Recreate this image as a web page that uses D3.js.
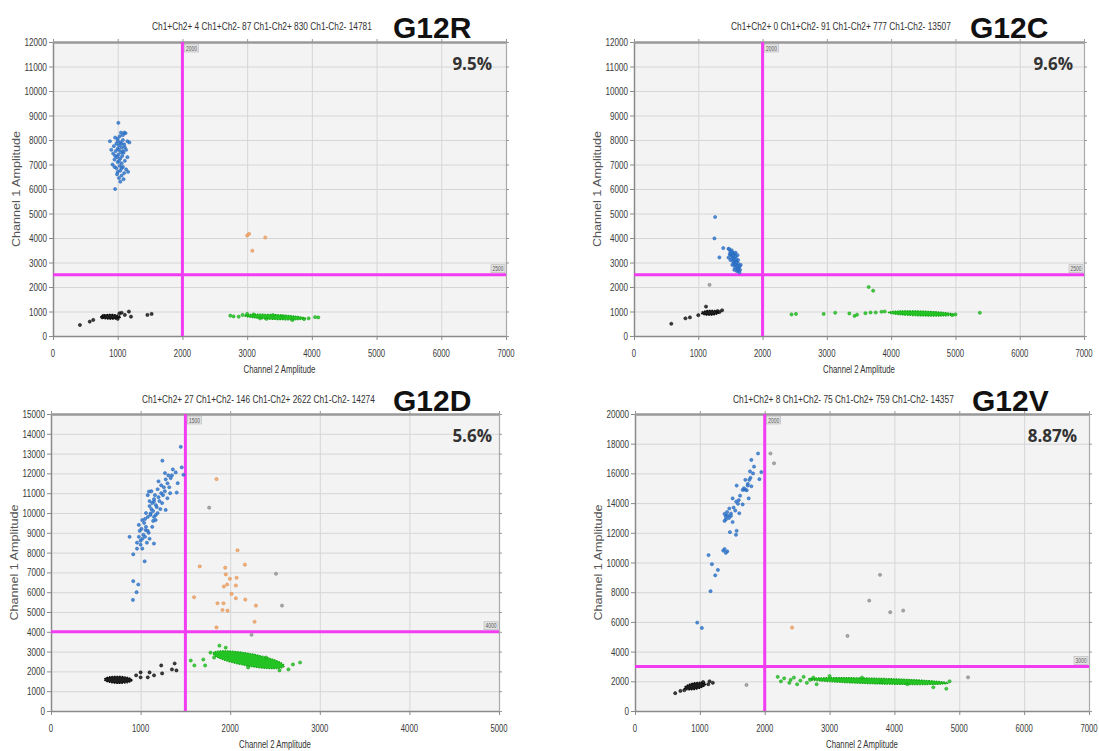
<!DOCTYPE html>
<html>
<head>
<meta charset="utf-8">
<script src="https://cdnjs.cloudflare.com/ajax/libs/d3/7.8.5/d3.min.js"></script>
<style>
  body { margin: 0; background: #fff; }
  svg { display: block; }
</style>
</head>
<body>
<div id="place"></div>
<script>
// ---- data (Channel 2 amplitude, Channel 1 amplitude) ----

// G12R
const rTitle = "Ch1+Ch2+ 4 Ch1+Ch2- 87 Ch1-Ch2+ 830 Ch1-Ch2- 14781";
const rThresholds = [2000, 2500];
const rBlue = [[1010,8700],[1050,8300],[1120,8280],[960,8100],[1000,8050],[1080,8000],[1150,7950],[1040,7900],[980,7850],[1100,7820],[1020,7780],[940,7750],[1060,7700],[1000,7650],[1130,7600],[970,7550],[1050,7500],[1090,7480],[930,7450],[1010,7400],[1070,7350],[990,7300],[1040,7250],[950,7200],[1110,7150],[1000,7100],[1060,7050],[920,7000],[1030,6950],[1080,6900],[980,6850],[1130,6800],[1040,6750],[1000,6700],[1100,6650],[1060,6550],[1020,6450],[1090,6400],[1040,6300],[960,6000],[1080,8200],[1000,7950],[1060,7850],[1020,7600],[1080,7550],[960,7350],[1020,7150],[1060,6850],[990,6600],[1110,7700],[1180,7900],[880,7950],[900,7600],[1150,7300],[1160,6700],[950,6900],[1030,8150],[1100,8300]];
const rOrange = [[3000,4100],[3030,4170],[3280,4020],[3080,3480]];
const rGray = [];
const rBlack = [[416,450],[568,587],[622,655],[1173,996],[1205,790],[1459,860],[1524,900],[1027,928],[1110,860],[1060,950],[760,760],[780,820],[1000,700]];
const rGreen = [[2740,830],[2790,800],[2870,790],[2930,860],[3950,720],[4050,770],[4100,760],[3880,690],[3000,900],[3400,850],[3700,650],[3200,720],[3100,880],[3550,800],[3300,700]];
// dense clusters: [x start, y start, x end, y end, half thickness in Ch1 units]
const rBlackCore = [[760,790,1020,780,100]];
const rGreenCore = [[2980,830,3880,720,100]];

// G12C
const cTitle = "Ch1+Ch2+ 0 Ch1+Ch2- 91 Ch1-Ch2+ 777 Ch1-Ch2- 13507";
const cThresholds = [2000, 2500];
const cBlue = [[1262,4857],[1251,3984],[1328,3206],[1470,3561],[1388,3588],[1480,3550],[1500,3450],[1520,3500],[1540,3400],[1560,3350],[1500,3300],[1530,3250],[1550,3200],[1580,3250],[1520,3150],[1560,3100],[1590,3150],[1540,3050],[1570,3000],[1600,3050],[1550,2950],[1580,2900],[1620,2950],[1600,2850],[1630,2800],[1610,2750],[1650,2700],[1640,2600],[1660,2900],[1500,3100],[1470,3200],[1580,3400],[1610,3300],[1600,2650],[1570,2800],[1530,2900],[1490,3350],[1620,3100],[1560,2700],[1640,2850],[1510,3380],[1545,3300],[1590,3000],[1620,2680]];
const cOrange = [];
const cGray = [[1175,2087]];
const cBlack = [[580,500],[800,720],[870,760],[1120,1200],[1370,1050],[1300,1020],[1000,850],[1330,980]];
const cGreen = [[2450,880],[2520,900],[2950,900],[3130,950],[3350,920],[3430,820],[3470,870],[3600,930],[3680,960],[3760,960],[3850,990],[5000,880],[5380,950],[3650,2000],[3720,1850],[3900,1000],[4950,850]];
const cBlackCore = [[1070,940,1300,960,100]];
const cGreenCore = [[3980,960,4950,880,100]];

// G12D
const dTitle = "Ch1+Ch2+ 27 Ch1+Ch2- 146 Ch1-Ch2+ 2622 Ch1-Ch2- 14274";
const dThresholds = [1500, 4000];
const dBlue = [[1448,13340],[1243,12644],[1459,12305],[1478,11932],[1272,12017],[1392,12051],[1336,11763],[1414,11508],[1403,11034],[1093,11085],[1149,10576],[1299,10746],[1280,10153],[1112,9983],[1019,9644],[1168,9644],[1056,9136],[981,8797],[877,8797],[1149,8458],[1019,8203],[918,7915],[1045,7559],[918,6559],[974,6390],[955,6000],[914,5610],[1100,10600],[1130,10500],[1150,10700],[1170,10400],[1200,10800],[1180,10300],[1120,10200],[1060,10000],[1080,9800],[1140,10100],[1210,10600],[1230,11000],[1250,10900],[1190,11200],[1260,11300],[1300,11500],[1320,11300],[1280,11700],[1350,11900],[1230,11400],[1160,10900],[1100,10350],[1040,9500],[1060,9300],[1090,9000],[1010,9200],[1030,8900],[1100,8700],[1070,8500],[990,9100],[1000,8600],[960,8200],[1050,9700],[1130,9300],[1170,9900],[1220,10200],[1240,10500],[1140,9600],[1190,10000],[1110,9900],[1020,8700],[980,9400],[1080,10900],[1120,11100],[1270,11100],[1330,11000],[1200,11600],[1310,11900],[1360,12200],[1150,9800],[1080,9100],[1050,8800],[1000,8400],[960,8500]];
const dOrange = [[1847,11712],[2082,8119],[1660,7305],[2164,7390],[1944,7237],[1951,6898],[1996,6678],[2071,6729],[1929,6288],[1966,6390],[2063,6339],[2015,5915],[2063,5695],[2168,5627],[1597,5746],[1858,5441],[1925,5441],[2287,5322],[1914,5102],[1970,5068],[2272,4508],[1847,4220]];
const dGray = [[1765,10271],[2511,6932],[2578,5322],[2238,3847]];
const dBlack = [[950,1800],[1000,1950],[1100,1950],[1080,1700],[1150,1800],[1230,2300],[1240,1900],[1380,2400],[1350,2100],[1400,2050],[1000,1700]];
const dGreen = [[1560,2550],[1600,2300],[1720,2300],[1700,2600],[1820,2700],[1880,3300],[2700,2350],[2780,2450],[2650,2100],[2550,2050],[1950,3200],[1780,2950],[2400,2700],[2200,2200]];
const dBlackCore = [[620,1590,880,1560,180]];
const dGreenCore = [[1850,2880,2560,2300,320]];

// G12V
const vTitle = "Ch1+Ch2+ 8 Ch1+Ch2- 75 Ch1-Ch2+ 759 Ch1-Ch2- 14357";
const vThresholds = [2000, 3000];
const vBlue = [[1897,17341],[1794,16909],[1835,16455],[1773,16136],[1948,16091],[1918,15614],[1701,15568],[1763,15568],[1567,15182],[1737,15182],[1794,15136],[1722,14864],[1660,14886],[1753,14318],[1505,14318],[1588,13955],[1660,13909],[1454,13636],[1546,13500],[1608,13318],[1381,13273],[1428,13182],[1479,13136],[1402,12909],[1505,12727],[1464,12045],[1567,12136],[1557,11864],[1381,10909],[1423,10750],[1134,10500],[1186,9886],[1278,9500],[1237,9136],[1165,8068],[959,5955],[1031,5591],[1420,13400],[1450,13000],[1400,13100],[1480,13300],[1520,13700],[1560,14100],[1620,14500],[1700,14900],[1740,15300],[1780,15700],[1820,16000],[1680,15000],[1600,14200],[1380,12800],[1360,10800],[1400,10650]];
const vOrange = [[2422,5618]];
const vGray = [[2088,17341],[2144,16682],[3778,9169],[3611,7438],[3935,6652],[4135,6764],[3276,5056],[5135,2270],[1719,1753]];
const vBlack = [[620,1200],[700,1350],[1130,1800],[1200,1900],[1150,2000],[1050,1950],[760,1400]];
const vGreen = [[2200,2300],[2250,2000],[2380,1900],[2450,2250],[2500,1800],[2550,2050],[2700,2100],[2800,1800],[4600,1600],[4800,1500],[4850,2000],[2300,2200],[2650,1900],[2400,2100],[2600,2300],[2750,2250],[3000,2350],[3500,2250],[4200,1800],[3800,1950]];
const vBlackCore = [[790,1560,1060,1800,220]];
const vGreenCore = [[2700,2150,4800,1880,190]];

// ---- layout ----
const W = 1099, H = 751;
const colors = { blue: "#3079d0", orange: "#f2a364", gray: "#9a9a9a", black: "#1c1c1c", green: "#22c322" };
const strokes = { blue: "#2363b4", orange: "#d98443", gray: "#7a7a7a", black: "#000", green: "#15a015" };

const panels = [
  { name: "G12R", pct: "9.5%", title: rTitle, thr: rThresholds, L: 53, R: 506, T: 42, B: 336, xMax: 7000, yMax: 12000, yStep: 1000,
    titleX: 152, titleW: 220, nameX: 393, pctR: 492, base: 0,
    groups: { blue: rBlue, orange: rOrange, gray: rGray, black: rBlack, green: rGreen }, cores: { black: rBlackCore, green: rGreenCore } },
  { name: "G12C", pct: "9.6%", title: cTitle, thr: cThresholds, L: 634, R: 1084, T: 42, B: 336, xMax: 7000, yMax: 12000, yStep: 1000,
    titleX: 731, titleW: 220, nameX: 970, pctR: 1073, base: 0,
    groups: { blue: cBlue, orange: cOrange, gray: cGray, black: cBlack, green: cGreen }, cores: { black: cBlackCore, green: cGreenCore } },
  { name: "G12D", pct: "5.6%", title: dTitle, thr: dThresholds, L: 51, R: 499, T: 414, B: 711, xMax: 5000, yMax: 15000, yStep: 1000,
    titleX: 142, titleW: 233, nameX: 393, pctR: 492, base: 373,
    groups: { blue: dBlue, orange: dOrange, gray: dGray, black: dBlack, green: dGreen }, cores: { black: dBlackCore, green: dGreenCore } },
  { name: "G12V", pct: "8.87%", title: vTitle, thr: vThresholds, L: 635, R: 1089, T: 414, B: 711, xMax: 7000, yMax: 20000, yStep: 2000,
    titleX: 733, titleW: 221, nameX: 972, pctR: 1077, base: 373,
    groups: { blue: vBlue, orange: vOrange, gray: vGray, black: vBlack, green: vGreen }, cores: { black: vBlackCore, green: vGreenCore } }
];

const svg = d3.select("#place").append("svg").attr("width", W).attr("height", H);
const sans = "'Liberation Sans', Arial, sans-serif";

// narrow text: squeeze a normal font horizontally to the width seen in the picture
function narrowText(sel, x, y, str, size, width, anchor, fill) {
  const t = sel.append("text").attr("font-family", sans).attr("font-size", size)
    .attr("fill", fill || "#333").attr("text-anchor", anchor || "start").text(str);
  const nat = t.node().getComputedTextLength();
  t.attr("transform", `translate(${x},${y}) scale(${width / nat},1)`);
  return t;
}

panels.forEach(p => {
  const g = svg.append("g");
  const x = d3.scaleLinear().domain([0, p.xMax]).range([p.L, p.R]);
  const y = d3.scaleLinear().domain([0, p.yMax]).range([p.B, p.T]);
  const xTicks = d3.range(0, p.xMax + 1, 1000);
  const yTicks = d3.range(0, p.yMax + 1, p.yStep);

  // plot background
  g.append("rect").attr("x", p.L).attr("y", p.T).attr("width", p.R - p.L).attr("height", p.B - p.T).attr("fill", "#f3f3f3");

  // grid
  g.append("g").attr("transform", `translate(${p.L},0)`)
    .call(d3.axisLeft(y).tickValues(yTicks).tickSize(-(p.R - p.L)).tickFormat(""))
    .call(a => a.select(".domain").remove())
    .selectAll("line").attr("stroke", "#d6d6d6");
  g.append("g").attr("transform", `translate(0,${p.B})`)
    .call(d3.axisBottom(x).tickValues(xTicks).tickSize(-(p.B - p.T)).tickFormat(""))
    .call(a => a.select(".domain").remove())
    .selectAll("line").attr("stroke", "#d6d6d6");

  // axes (tick marks) + narrow tick labels
  const ya = g.append("g").attr("transform", `translate(${p.L},0)`)
    .call(d3.axisLeft(y).tickValues(yTicks).tickSize(4).tickFormat("").tickSizeOuter(0));
  const xa = g.append("g").attr("transform", `translate(0,${p.B})`)
    .call(d3.axisBottom(x).tickValues(xTicks).tickSize(4).tickFormat("").tickSizeOuter(0));
  [ya, xa].forEach(a => {
    a.select(".domain").attr("stroke", "#8a8a8a").attr("stroke-width", 1.5);
    a.selectAll(".tick line").attr("stroke", "#8a8a8a");
  });
  yTicks.forEach(v => narrowText(g, p.L - 6, y(v) + 4, String(v), 11, String(v).length * 4.5, "end", "#3a3a3a"));
  xTicks.forEach(v => narrowText(g, x(v), p.B + 21, String(v), 11, String(v).length * 4.3, "middle", "#3a3a3a"));

  // frame: top and right with small outward ticks
  g.append("g").attr("transform", `translate(0,${p.T})`)
    .call(d3.axisTop(x).tickValues(xTicks).tickSize(3).tickFormat("").tickSizeOuter(0))
    .call(a => a.select(".domain").attr("stroke", "#999").attr("stroke-width", 2.5))
    .selectAll("line").attr("stroke", "#999");
  g.append("g").attr("transform", `translate(${p.R},0)`)
    .call(d3.axisRight(y).tickValues(yTicks).tickSize(3).tickFormat("").tickSizeOuter(0))
    .call(a => a.select(".domain").attr("stroke", "#aaa").attr("stroke-width", 1.2))
    .selectAll("line").attr("stroke", "#999");

  // axis titles
  narrowText(g, (p.L + p.R) / 2, p.B + 37, "Channel 2 Amplitude", 10.5, 72, "middle", "#333");
  g.append("text").attr("transform", `translate(${p.L - 33},${(p.T + p.B) / 2}) rotate(-90)`).attr("text-anchor", "middle")
    .attr("font-family", sans).attr("font-size", 10).attr("fill", "#555")
    .attr("textLength", 116).attr("lengthAdjust", "spacingAndGlyphs").text("Channel 1 Amplitude");

  // threshold lines
  const tx = x(p.thr[0]), ty = y(p.thr[1]);
  g.append("line").attr("x1", tx).attr("x2", tx).attr("y1", p.T).attr("y2", p.B).attr("stroke", "#f23cf2").attr("stroke-width", 3);
  g.append("line").attr("x1", p.L).attr("x2", p.R).attr("y1", ty).attr("y2", ty).attr("stroke", "#f23cf2").attr("stroke-width", 3);
  // threshold value tags
  const tag = (tx0, ty0, label) => {
    g.append("rect").attr("x", tx0).attr("y", ty0).attr("width", 14).attr("height", 8).attr("fill", "#e4e4e4").attr("stroke", "#aaa").attr("stroke-width", 0.5);
    narrowText(g, tx0 + 7, ty0 + 6.5, String(label), 7, 11, "middle", "#555");
  };
  tag(tx + 2, p.T + 2, p.thr[0]);
  tag(p.R - 15, ty - 10, p.thr[1]);

  // dense droplet clusters
  ["green", "black"].forEach(k => {
    g.selectAll(null).data(p.cores[k]).enter().append("ellipse")
      .each(function (d) {
        const x1 = x(d[0]), y1 = y(d[1]), x2 = x(d[2]), y2 = y(d[3]);
        const ry = Math.abs(y(0) - y(d[4]));
        const len = Math.hypot(x2 - x1, y2 - y1) / 2 + ry * 0.6;
        const ang = Math.atan2(y2 - y1, x2 - x1) * 180 / Math.PI;
        d3.select(this).attr("cx", (x1 + x2) / 2).attr("cy", (y1 + y2) / 2)
          .attr("rx", len).attr("ry", ry)
          .attr("transform", `rotate(${ang},${(x1 + x2) / 2},${(y1 + y2) / 2})`);
      })
      .attr("fill", colors[k]).attr("stroke", strokes[k]).attr("stroke-width", 1.2).attr("stroke-dasharray", "1.5,1");
  });

  // individual droplets
  ["gray", "orange", "green", "black", "blue"].forEach(k => {
    g.selectAll(null).data(p.groups[k]).enter().append("circle")
      .attr("cx", d => x(d[0])).attr("cy", d => y(d[1])).attr("r", 1.6)
      .attr("fill", colors[k]).attr("stroke", strokes[k]).attr("stroke-width", 0.5).attr("fill-opacity", 0.85);
  });

  // header texts
  narrowText(g, p.titleX, p.base + 30, p.title, 11, p.titleW, "start", "#333");
  g.append("text").attr("x", p.nameX).attr("y", p.base + 38)
    .attr("font-family", sans).attr("font-weight", "bold").attr("font-size", 30).attr("fill", "#111")
    .text(p.name);
  g.append("text").attr("x", p.pctR).attr("y", p.base + (p.base ? 69 : 70)).attr("text-anchor", "end")
    .attr("font-family", "'Open Sans', sans-serif").attr("font-weight", "bold").attr("font-size", 17).attr("fill", "#333")
    .text(p.pct);
});
</script>
</body>
</html>
